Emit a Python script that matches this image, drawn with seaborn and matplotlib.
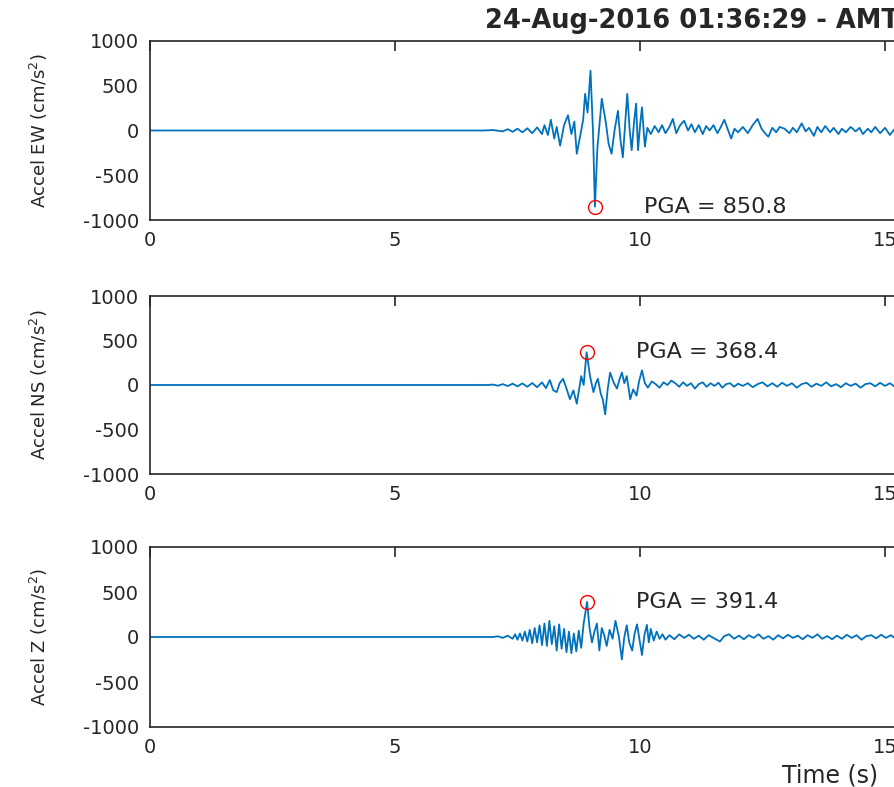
"""Three-component accelerogram with PGA markers (24-Aug-2016 event)."""

import matplotlib.pyplot as plt
import matplotlib.transforms as mtransforms
import pandas as pd
import seaborn as sns

TITLE = "24-Aug-2016 01:36:29 - AMT"
COMPONENTS = ["EW", "NS", "Z"]

# time (s) / acceleration (cm/s^2)
ew_t = [0.0, 6.8, 7.0, 7.2, 7.3, 7.4, 7.5, 7.6, 7.7, 7.8, 7.9, 8.0, 8.05, 8.12, 8.18, 8.25,
        8.30, 8.37, 8.45, 8.53, 8.60, 8.66, 8.71, 8.78, 8.84, 8.88, 8.93, 8.99, 9.04, 9.08,
        9.13, 9.22, 9.30, 9.36, 9.42, 9.48, 9.55, 9.60, 9.65, 9.70, 9.74, 9.79, 9.83, 9.88,
        9.92, 9.96, 10.00, 10.04, 10.08, 10.10, 10.15, 10.22, 10.30, 10.38, 10.45, 10.52,
        10.60, 10.67, 10.74, 10.82, 10.90, 10.98, 11.05, 11.12, 11.20, 11.28, 11.35, 11.42,
        11.50, 11.58, 11.65, 11.72, 11.80, 11.86, 11.93, 12.00, 12.10, 12.20, 12.30, 12.40,
        12.48, 12.55, 12.62, 12.70, 12.78, 12.85, 12.95, 13.05, 13.12, 13.20, 13.30, 13.38,
        13.45, 13.55, 13.62, 13.70, 13.78, 13.88, 13.95, 14.05, 14.12, 14.20, 14.30, 14.40,
        14.48, 14.55, 14.65, 14.72, 14.80, 14.90, 15.00, 15.10, 15.20, 15.30, 15.40, 15.60]
ew_a = [0, 0, 5, -10, 15, -15, 20, -20, 25, -30, 35, -40, 60, -50, 120, -90,
        40, -170, 60, 170, -40, 100, -260, -60, 120, 410, 200, 667, 0, -851,
        -200, 355, 100, -150, -260, 0, 220, -100, -300, 100, 410, 0, -220, 100,
        300, -220, 50, 260, -40, -180, 30, -40, 50, -20, 60, -30,
        40, 130, -30, 60, 110, 0, 70, -20, 60, -40, 50, 0,
        60, -30, 40, 120, 0, -90, 20, -20, 40, -30, 60, 130,
        20, -30, -70, 30, -20, 40, 20, -30, 30, -20, 80, -10,
        30, -60, 40, -20, 50, -20, 30, -40, 20, -20, 40, -10,
        30, -40, 20, -20, 40, -30, 30, -50, 20, -30, 10, 20]

ns_t = [0.0, 6.9, 7.0, 7.1, 7.2, 7.3, 7.4, 7.5, 7.6, 7.7, 7.8, 7.9, 8.0, 8.08, 8.16, 8.23,
        8.30, 8.36, 8.43, 8.50, 8.57, 8.64, 8.71, 8.76, 8.80, 8.85, 8.91, 8.98, 9.05, 9.10,
        9.14, 9.20, 9.24, 9.29, 9.34, 9.39, 9.46, 9.53, 9.58, 9.63, 9.68, 9.73, 9.80, 9.86,
        9.93, 9.98, 10.04, 10.10, 10.16, 10.24, 10.32, 10.40, 10.48, 10.56, 10.64, 10.72,
        10.80, 10.88, 10.96, 11.04, 11.12, 11.20, 11.28, 11.36, 11.44, 11.52, 11.60, 11.68,
        11.76, 11.84, 11.92, 12.0, 12.1, 12.2, 12.3, 12.4, 12.5, 12.6, 12.7, 12.8, 12.9,
        13.0, 13.1, 13.2, 13.3, 13.4, 13.5, 13.6, 13.7, 13.8, 13.9, 14.0, 14.1, 14.2, 14.3,
        14.4, 14.5, 14.6, 14.7, 14.8, 14.9, 15.0, 15.1, 15.2, 15.3, 15.4, 15.6]
ns_a = [0, 0, 5, -8, 10, -12, 15, -15, 18, -20, 22, -25, 30, -35, 55, -60,
        -80, 20, 70, -40, -160, -60, -210, -40, 100, 0, 368, 100, -80, 20,
        70, -100, -160, -330, -50, 140, 30, -40, 60, 140, 20, 100, -160, -50,
        -120, 40, 165, 20, -30, 40, 10, -30, 30, 0, 50, 20,
        -20, 30, -10, 20, -40, 10, 30, -20, 20, -10, 25, -30,
        10, 20, -20, 15, -10, 20, -25, 10, 30, -15, 20, -20, 25,
        -10, 20, -30, 10, 25, -20, 15, -10, 30, -15, 10, -25, 20, -10,
        15, -30, 10, 20, -15, 25, -10, 20, -20, 15, -10, 10]

z_t = [0.0, 7.0, 7.1, 7.2, 7.3, 7.4, 7.45, 7.5, 7.55, 7.6, 7.65, 7.7, 7.75, 7.8, 7.85, 7.9,
       7.95, 8.0, 8.05, 8.1, 8.15, 8.2, 8.25, 8.3, 8.35, 8.4, 8.45, 8.5, 8.55, 8.6, 8.65,
       8.7, 8.75, 8.8, 8.85, 8.92, 8.97, 9.02, 9.07, 9.12, 9.17, 9.22, 9.27, 9.32, 9.38,
       9.44, 9.50, 9.57, 9.63, 9.68, 9.73, 9.78, 9.84, 9.89, 9.94, 9.99, 10.04, 10.09,
       10.14, 10.18, 10.22, 10.28, 10.34, 10.40, 10.46, 10.52, 10.60, 10.70, 10.80, 10.90,
       11.00, 11.10, 11.20, 11.30, 11.40, 11.50, 11.63, 11.72, 11.82, 11.92, 12.02, 12.12,
       12.22, 12.32, 12.42, 12.52, 12.62, 12.72, 12.82, 12.92, 13.02, 13.12, 13.22, 13.32,
       13.42, 13.52, 13.62, 13.72, 13.82, 13.92, 14.02, 14.12, 14.22, 14.32, 14.42, 14.52,
       14.62, 14.72, 14.82, 14.92, 15.02, 15.12, 15.22, 15.32, 15.42, 15.60]
z_a = [0, 0, 8, -10, 15, -20, 30, -30, 40, -40, 60, -50, 80, -70, 100, -60,
       130, -90, 150, -100, 180, -80, 120, -150, 140, -130, 90, -170, 60, -180, 40,
       -160, 70, -120, 150, 391, 100, -60, 60, 150, -150, 100, 20, -100, 80,
       -20, 180, 0, -250, 0, 130, -60, -150, 40, 140, -30, -200, 20,
       135, -60, 90, -40, 60, -20, 30, -30, 20, -25, 30, -10,
       25, -20, 15, -30, 20, -10, -50, 10, 30, -20, 15, -25,
       20, -10, 30, -20, 10, -30, 20, -15, 25, -10, 15, -25,
       20, -10, 30, -20, 10, -25, 15, -20, 25, -10, 20, -30,
       10, 20, -15, 25, -10, 20, -20, 15, -10, 10]

# peak ground acceleration per component: time (s), signed value (cm/s^2)
pga_t = [9.08, 8.91, 8.92]
pga_a = [-850.8, 368.4, 391.4]

traces = [(ew_t, ew_a), (ns_t, ns_a), (z_t, z_a)]

sns.set_theme(style="white")
plt.rcParams["font.family"] = ["DejaVu Sans"]
plt.rcParams["axes.unicode_minus"] = False

FG = "#262626"
LINE = "#0072BD"
W, H = 894, 787
px_per_s = 49.0
x_max = 1360 / px_per_s

fig = plt.figure(figsize=(W / 100, H / 100), dpi=100)
fig.patch.set_facecolor("white")

# axes boxes in pixels (top, bottom); they run past the right edge like the source
boxes = [(41, 220), (296, 474), (547, 727)]

for i, (comp, (t, a), (top, bot)) in enumerate(zip(COMPONENTS, traces, boxes)):
    ax = fig.add_axes([150 / W, 1 - bot / H, 1360 / W, (bot - top) / H])
    df = pd.DataFrame({"t": t, "a": a})
    sns.lineplot(data=df, x="t", y="a", ax=ax, color=LINE, linewidth=1.3)
    ax.plot(pga_t[i], pga_a[i], "o", mfc="none", mec="red", ms=10, mew=1.0)
    ax.text(pga_t[i] + 1.0, pga_a[i], f"PGA = {abs(pga_a[i]):.1f}",
            va="center", ha="left", fontsize=16, color=FG)

    ax.set_xlim(0, x_max)
    ax.set_ylim(-1000, 1000)
    ax.set_xticks([0, 5, 10, 15, 20, 25])
    ax.set_yticks([-1000, -500, 0, 500, 1000])
    ax.tick_params(direction="in", top=True, right=False, length=7, width=1.2,
                   colors=FG, labelsize=14, pad=8)
    for s in ax.spines.values():
        s.set_color(FG)
        s.set_linewidth(1.2)
    ax.spines["right"].set_visible(False)
    ax.set_xlabel("")
    ax.set_ylabel(f"Accel {comp} (cm/s$^2$)", fontsize=13, color=FG)
    ax.yaxis.set_label_coords(
        50 / W, 0.5, transform=mtransforms.blended_transform_factory(fig.transFigure, ax.transAxes))

    if i == 2:
        ax.set_xlabel("Time (s)", fontsize=17, color=FG)
        ax.xaxis.set_label_coords(
            0.5, 1 - 764 / H,
            transform=mtransforms.blended_transform_factory(ax.transAxes, fig.transFigure))

fig.text(485 / W, 1 - 21 / H, TITLE, ha="left", va="center",
         fontsize=18.5, fontweight="bold", color=FG)

fig.savefig("out.png", dpi=100)
